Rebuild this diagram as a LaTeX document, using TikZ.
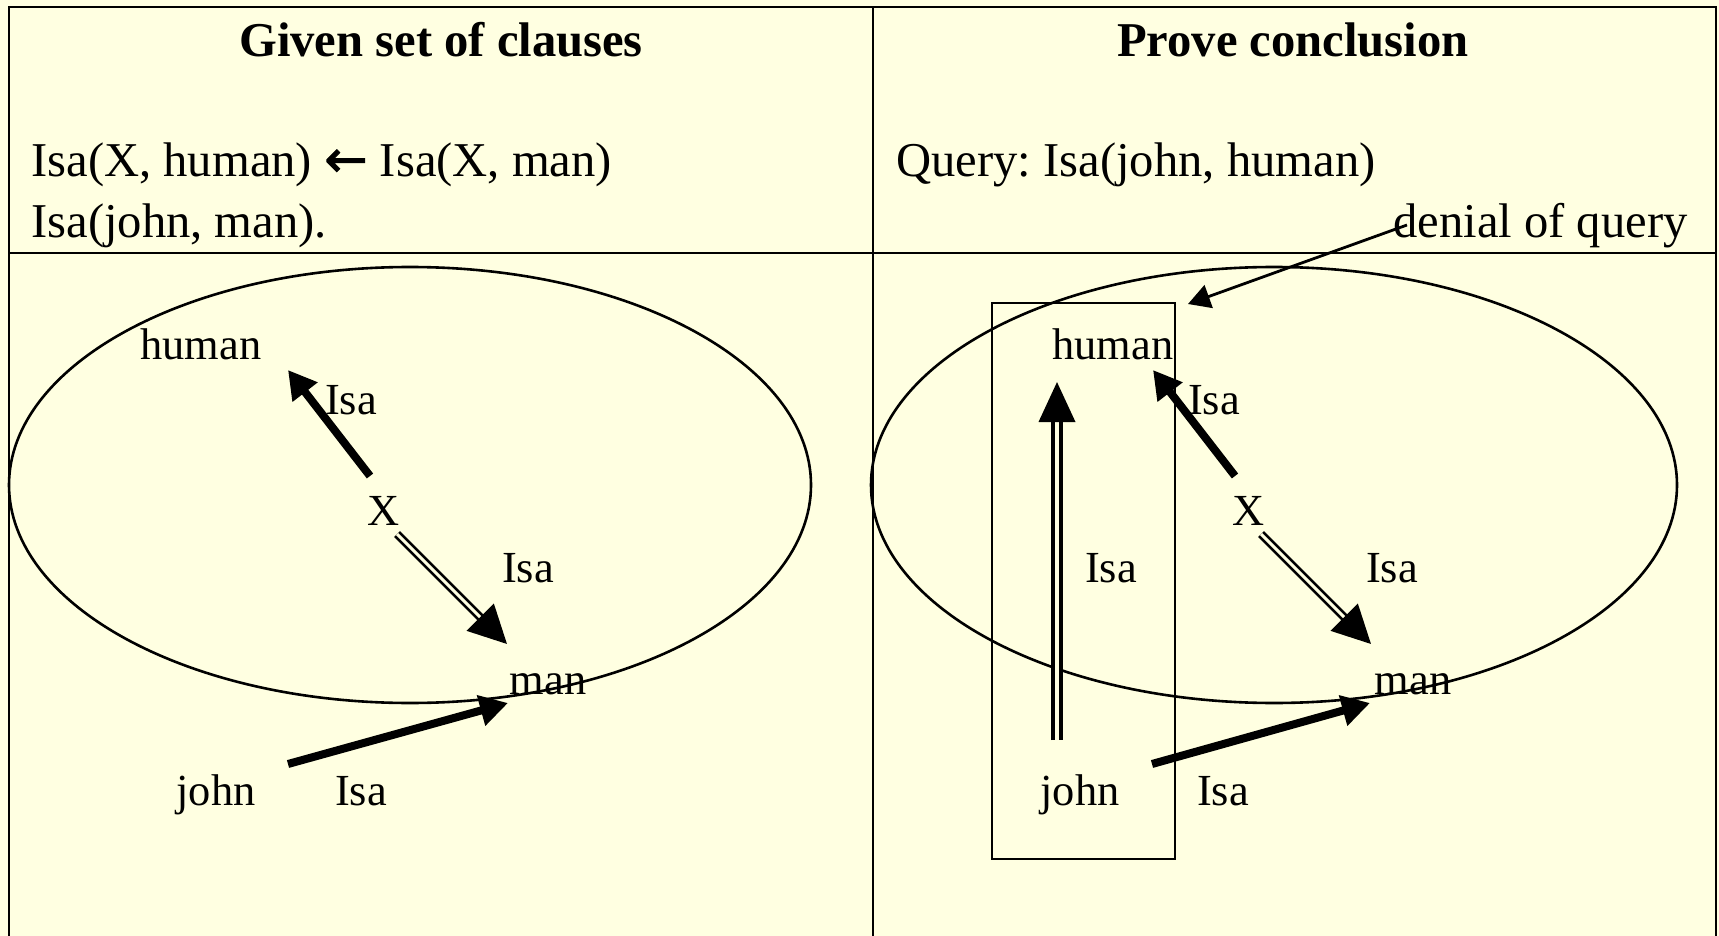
\documentclass[tikz,border=0pt]{standalone}
\usepackage{fontspec}
\setmainfont{Liberation Serif}
\newfontfamily\arrowfont{DejaVu Sans}[FakeBold=1.5]
\usetikzlibrary{arrows.meta}
\definecolor{bgc}{RGB}{255,255,225}
\begin{document}
\frenchspacing
\begin{tikzpicture}[x=0.5pt,y=-0.5pt,
  big/.style={font=\fontsize{24.3}{29}\selectfont\frenchspacing, inner sep=0pt},
  bigb/.style={font=\fontsize{24.3}{29}\selectfont\bfseries, inner sep=0pt},
  lab/.style={font=\fontsize{22.2}{26}\selectfont, inner sep=0pt},
  frame/.style={line width=1.3pt},
  thickarrow/.style={line width=4pt, -{Triangle[length=14pt,width=15pt]}},
  dblarrow/.style={double=bgc, double distance=1.5pt, line width=1.35pt, -{Triangle[length=19pt,width=19pt]}},
  vdblarrow/.style={double=bgc, double distance=2.3pt, line width=1.9pt, -{Triangle[length=20pt,width=18pt]}},
  thinarrow/.style={line width=1.4pt, -{Triangle[length=11pt,width=12pt]}}]
\fill[bgc] (0,0) rectangle (1719,936);
\useasboundingbox (0,0) rectangle (1719,936);
% frame
\draw[frame] (9,936) -- (9,7) -- (1716,7) -- (1716,936);
\draw[frame] (873,7) -- (873,936);
\draw[frame] (9,253) -- (1716,253);
% headers
\node[bigb, anchor=base] (h1) at (441,57) {Given set of clauses};
\node[bigb, anchor=base] (h2) at (1293,57) {Prove conclusion};
\node[big, anchor=base west] (c1) at (31,177) {Isa(X, human) {\arrowfont\fontsize{26}{29}\selectfont\symbol{"2190}} Isa(X, man)};
\node[big, anchor=base west] (c2) at (31,238) {Isa(john, man).};
\node[big, anchor=base west] (q1) at (896,177) {Query: Isa(john, human)};
\node[big, anchor=base east] (dq) at (1688,238) {denial of query};
% ellipses
\draw[frame] (410,485) ellipse [x radius=200.5pt, y radius=109pt];
\draw[frame] (1274,485) ellipse [x radius=201.5pt, y radius=109pt];
% box
\draw[frame] (992,303) rectangle (1175,859);
% left panel labels
\node[lab] (lhuman) at (201,344) {human};
\node[lab] (lisa1) at (351,400) {Isa};
\node[lab] (lX) at (384,511) {X};
\node[lab] (lisa2) at (528,568) {Isa};
\node[lab] (lman) at (548,684) {man};
\node[lab] (ljohn) at (216,795) {john};
\node[lab] (lisa3) at (361,791) {Isa};
% right panel labels
\node[lab] (rhuman) at (1113,344) {human};
\node[lab] (risa1) at (1214,400) {Isa};
\node[lab] (rX) at (1249,511) {X};
\node[lab] (risa2) at (1392,568) {Isa};
\node[lab] (rman) at (1413,684) {man};
\node[lab] (rjohn) at (1080,795) {john};
\node[lab] (risa3) at (1223,791) {Isa};
\node[lab] (risa4) at (1111,568) {Isa};
% arrow end points
\coordinate (la1s) at (370,476); \coordinate (la1e) at (288,370);
\coordinate (la2s) at (397,534); \coordinate (la2e) at (507,644);
\coordinate (la3s) at (288,764); \coordinate (la3e) at (508,703);
\coordinate (ra1s) at (1235,476); \coordinate (ra1e) at (1153,370);
\coordinate (ra2s) at (1261,534); \coordinate (ra2e) at (1371,644);
\coordinate (ra3s) at (1152,764); \coordinate (ra3e) at (1370,703);
\coordinate (vs) at (1057,740); \coordinate (ve) at (1057,382);
\coordinate (ds) at (1407,225); \coordinate (de) at (1188,304);
% arrows
\draw[thickarrow] (la1s) -- (la1e);
\draw[dblarrow] (la2s) -- (la2e);
\draw[thickarrow] (la3s) -- (la3e);
\draw[thickarrow] (ra1s) -- (ra1e);
\draw[dblarrow] (ra2s) -- (ra2e);
\draw[thickarrow] (ra3s) -- (ra3e);
\draw[vdblarrow] (vs) -- (ve);
\draw[thinarrow] (ds) -- (de);
\end{tikzpicture}
\end{document}
